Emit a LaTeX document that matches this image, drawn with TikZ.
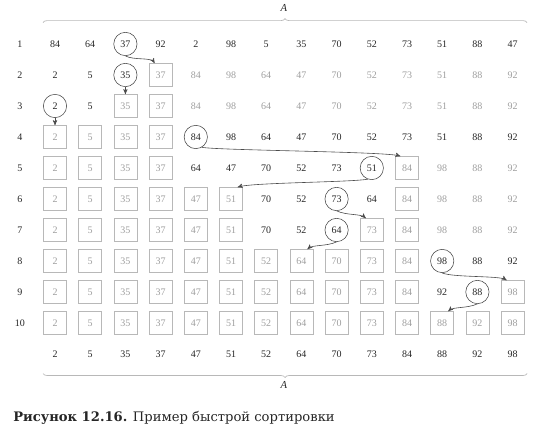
\documentclass[tikz,border=0pt]{standalone}
\usepackage{fontspec}
\setmainfont{Liberation Serif}
\newfontfamily\capfont{DejaVu Serif}
\usepackage{xcolor}
\colorlet{colorText}{black!85}
\colorlet{colorFaded}{black!38}
\colorlet{colorCell}{black!28}
\colorlet{colorPivot}{black!75}
\colorlet{colorMove}{black!70}
\usepackage{tikz}
\usetikzlibrary{arrows, positioning, decorations.pathreplacing}
\tikzset{
  blk/.style={text=colorText, font=\fontsize{7.5}{9}\selectfont},
  gry/.style={text=colorFaded, font=\fontsize{7.5}{9}\selectfont},
  cel/.style={draw=colorCell, text=colorFaded, minimum size=17.25pt, inner sep=0pt, font=\fontsize{7.5}{9}\selectfont},
  piv/.style={draw=colorPivot, circle, text=colorText, minimum size=17.5pt, inner sep=0pt, font=\fontsize{7.5}{9}\selectfont},
  move/.style={->, colorMove, line width=0.45pt},
  bracket/.style={draw=colorCell, line width=0.5pt, decorate, decoration={brace, amplitude=3pt}}
}

\begin{document}
\begin{tikzpicture}[x=26.4pt, y=-23.25pt, >=stealth']
\useasboundingbox (-0.5625,-0.419) rectangle (14.835,13.387);
% row numbers
\foreach \r in {1,...,10} \node[blk] (lab\r) at (0,\r) {\r};
% the rows of the array
\foreach \r/\row in {
  1/{84/blk,64/blk,37/piv,92/blk,2/blk,98/blk,5/blk,35/blk,70/blk,52/blk,73/blk,51/blk,88/blk,47/blk},
  2/{2/blk,5/blk,35/piv,37/cel,84/gry,98/gry,64/gry,47/gry,70/gry,52/gry,73/gry,51/gry,88/gry,92/gry},
  3/{2/piv,5/blk,35/cel,37/cel,84/gry,98/gry,64/gry,47/gry,70/gry,52/gry,73/gry,51/gry,88/gry,92/gry},
  4/{2/cel,5/cel,35/cel,37/cel,84/piv,98/blk,64/blk,47/blk,70/blk,52/blk,73/blk,51/blk,88/blk,92/blk},
  5/{2/cel,5/cel,35/cel,37/cel,64/blk,47/blk,70/blk,52/blk,73/blk,51/piv,84/cel,98/gry,88/gry,92/gry},
  6/{2/cel,5/cel,35/cel,37/cel,47/cel,51/cel,70/blk,52/blk,73/piv,64/blk,84/cel,98/gry,88/gry,92/gry},
  7/{2/cel,5/cel,35/cel,37/cel,47/cel,51/cel,70/blk,52/blk,64/piv,73/cel,84/cel,98/gry,88/gry,92/gry},
  8/{2/cel,5/cel,35/cel,37/cel,47/cel,51/cel,52/cel,64/cel,70/cel,73/cel,84/cel,98/piv,88/blk,92/blk},
  9/{2/cel,5/cel,35/cel,37/cel,47/cel,51/cel,52/cel,64/cel,70/cel,73/cel,84/cel,92/blk,88/piv,98/cel},
  10/{2/cel,5/cel,35/cel,37/cel,47/cel,51/cel,52/cel,64/cel,70/cel,73/cel,84/cel,88/cel,92/cel,98/cel},
  11/{2/blk,5/blk,35/blk,37/blk,47/blk,51/blk,52/blk,64/blk,70/blk,73/blk,84/blk,88/blk,92/blk,98/blk}}
  \foreach [count=\c] \v/\s in \row \node[\s] (r\r c\c) at (\c,\r) {\v};
% braces
\draw[bracket] (0.66,0.31) -- (14.41,0.31);
\draw[bracket] (14.41,11.63) -- (0.66,11.63);
\node[font=\fontsize{8}{9}\selectfont\itshape, text=colorText] (topA) at (7.5,-0.16) {A};
\node[font=\fontsize{8}{9}\selectfont\itshape, text=colorText] (botA) at (7.5,12.0) {A};
% moves of the pivots
\draw[move] (r1c3.south) .. controls +(0.25,0.15) and +(-0.1,-0.2) .. ([xshift=-4.5pt]r2c4.north);
\draw[move] (r2c3) -- (r3c3);
\draw[move] (r3c1) -- (r4c1);
\draw[move] (r4c5.-60) .. controls +(0.5,0.1) and +(-0.4,-0.15) .. ([xshift=-5pt]r5c11.north);
\draw[move] (r5c10.-110) .. controls +(-0.5,0.1) and +(0.4,-0.15) .. ([xshift=5pt]r6c6.north);
\draw[move] (r6c9.south) .. controls +(0.3,0.15) and +(-0.15,-0.15) .. ([xshift=-4.5pt]r7c10.north);
\draw[move] (r7c9.south) .. controls +(-0.3,0.15) and +(0.15,-0.15) .. ([xshift=4.5pt]r8c8.north);
\draw[move] (r8c12.south) .. controls +(0.3,0.15) and +(-0.2,-0.15) .. ([xshift=-4.5pt]r9c14.north);
\draw[move] (r9c13.south) .. controls +(-0.3,0.15) and +(0.15,-0.15) .. ([xshift=4.5pt]r10c12.north);
% caption
\node[anchor=west, inner sep=0pt, font=\capfont\fontsize{9.85}{11}\selectfont, text=colorText] (caption) at (-0.193,13.05) {\textbf{Рисунок 12.16.} Пример быстрой сортировки};
\end{tikzpicture}
\end{document}
